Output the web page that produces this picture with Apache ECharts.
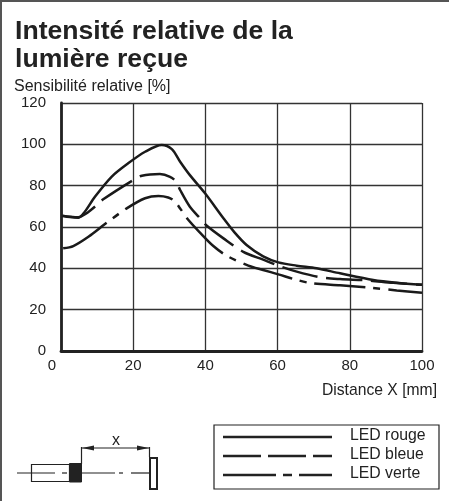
<!DOCTYPE html>
<html><head><meta charset="utf-8">
<style>html,body{margin:0;padding:0;background:#fff}#c{width:449px;height:501px}</style>
<script src="https://cdn.jsdelivr.net/npm/echarts@6/dist/echarts.min.js"></script>
</head><body><div id="c"></div>
<script>
const xTicks = [0, 20, 40, 60, 80, 100];
const yTicks = [0, 20, 40, 60, 80, 100, 120];
const ledRouge = [[0.4,65.3],[2.5,64.8],[4.8,64.5],[6.6,67.4],[9.4,74.6],[14,84.3],[18.6,90.8],[23.3,96.4],[27.9,99.7],[30.7,97.7],[33,91.6],[35.7,85.1],[39.9,76.3],[45,64.2],[48,57.5],[51.4,51.3],[56,45.8],[60.2,42.9],[65.3,41.3],[70.8,40],[77.3,37.6],[86.5,34.4],[93,33],[100,32]];
const ledBleue = [[0.4,65.5],[2.5,65],[4.8,64.7],[7,66.5],[9.9,70.6],[11.7,73.4],[20,82.7],[22.4,84.8],[27.4,85.6],[30.2,84.3],[31.9,81.9],[33,77.9],[35.7,69.8],[38.7,63.9],[40.4,60.6],[45,54.5],[50.5,48],[56,44.2],[60.2,41.3],[65.3,38.4],[71.7,35.7],[77.3,34.8],[84.6,34.2],[92,33],[100,32]];
const ledVerte = [[0.6,49.7],[3.4,50.8],[7.6,55.3],[12.7,62.1],[18.2,69],[23.3,73.9],[27,75],[29.7,74.3],[31.4,72.6],[33,69],[35.3,63.4],[38.5,57.3],[42.2,50.8],[46,46],[51.9,41.3],[56,39.2],[60.2,37.1],[65.3,34.4],[69.4,32.8],[77.3,31.8],[86,30.6],[93,29.3],[100,28.2]];
const titleLines = ["Intensité relative de la", "lumière reçue"];
const yName = "Sensibilité relative [%]";
const xName = "Distance X [mm]";
const legendNames = ["LED rouge", "LED bleue", "LED verte"];

const ink = '#222';
const dashes = ['solid', [36,9], [51,8,7,8]];
const seriesData = [ledRouge, ledBleue, ledVerte];
const legendY = [437, 456, 475];

const txt = (x, y, text, size, extra) => ({type:'text', x, y, silent:true, z:20, style:Object.assign({
  text, fill:ink, font:size+'px "Liberation Sans"', verticalAlign:'middle'}, extra||{})});
const ln = (x1,y1,x2,y2,w,dash,color) => ({type:'line', silent:true, z:20, shape:{x1,y1,x2,y2},
  style:{stroke:color||ink, lineWidth:w||1, lineDash:dash||null, fill:null}});
const rect = (x,y,width,height,fill,w) => ({type:'rect', silent:true, z:20, shape:{x,y,width,height},
  style:{fill:fill, stroke:ink, lineWidth:w||1}});
const tri = (pts) => ({type:'polygon', silent:true, z:20, shape:{points:pts}, style:{fill:ink}});

const graphic = [
  ln(1,0,1,501,2,null,'#555'), ln(0,1,449,1,2,null,'#555'),
  txt(15,32,titleLines[0],26.6,{font:'bold 26.6px "Liberation Sans"'}),
  txt(15,59.5,titleLines[1],26.6,{font:'bold 26.6px "Liberation Sans"'}),
  txt(14,87,yName,16),
  txt(437,391,xName,15.7,{align:'right'}),
  rect(214,425,225,64,'#fff',1.2),
  // sensor sketch
  ln(17,473,55,473,1.2), ln(62,473,67,473,1.2), ln(82,473,115,473,1.2), ln(119,473,123,473,1.2), ln(131,473,149,473,1.2),
  rect(31.5,464.5,38,17,'none',1.2),
  rect(69.5,463.5,12,18.5,ink,1),
  ln(81.5,464,81.5,447,1.2), ln(149.5,457,149.5,447,1.2), ln(82,448,149,448,1.2),
  tri([[82,448],[94,445.5],[94,450.5]]), tri([[149,448],[137,445.5],[137,450.5]]),
  rect(150,458,7,31,'#fff',2),
  txt(116,441,'x',16,{align:'center'})
];
legendNames.forEach((n,i)=>{
  graphic.push(ln(223,legendY[i],332,legendY[i],2.6,i===0?null:(i===1?[38,7]:[53,7,9,7])));
  graphic.push(txt(350,legendY[i]-1,n,15.8));
});

const chart = echarts.init(document.getElementById('c'), null, {renderer:'canvas'});
chart.setOption({
  animation:false,
  backgroundColor:'#fff',
  grid:{left:61, right:27, top:103, bottom:150, containLabel:false},
  xAxis:{type:'value', min:0, max:100, interval:20,
    axisLine:{show:true, onZero:false, lineStyle:{color:ink,width:2.8}},
    axisTick:{show:false},
    axisLabel:{color:ink, fontSize:15, fontFamily:'Liberation Sans', margin:7,
      formatter:v=>v===0?'{z|0}':(xTicks.includes(v)?String(v):''),
      rich:{z:{color:ink,fontSize:15,fontFamily:'Liberation Sans',padding:[0,18,0,0]}}},
    splitLine:{show:true, lineStyle:{color:'#333',width:1.3}}},
  yAxis:{type:'value', min:0, max:120, interval:20,
    axisLine:{show:true, onZero:false, lineStyle:{color:ink,width:2.8}},
    axisTick:{show:false},
    axisLabel:{color:ink, fontSize:15, fontFamily:'Liberation Sans', margin:15,
      formatter:v=>yTicks.includes(v)?String(v):''},
    splitLine:{show:true, lineStyle:{color:'#333',width:1.3}}},
  series: seriesData.map((d,i)=>({
    name:legendNames[i], type:'line', data:d, smooth:0.3, showSymbol:false, z:5+i,
    lineStyle:{color:'#1a1a1a', width:2.5, type:dashes[i]}
  })),
  graphic:graphic
});
</script></body></html>
